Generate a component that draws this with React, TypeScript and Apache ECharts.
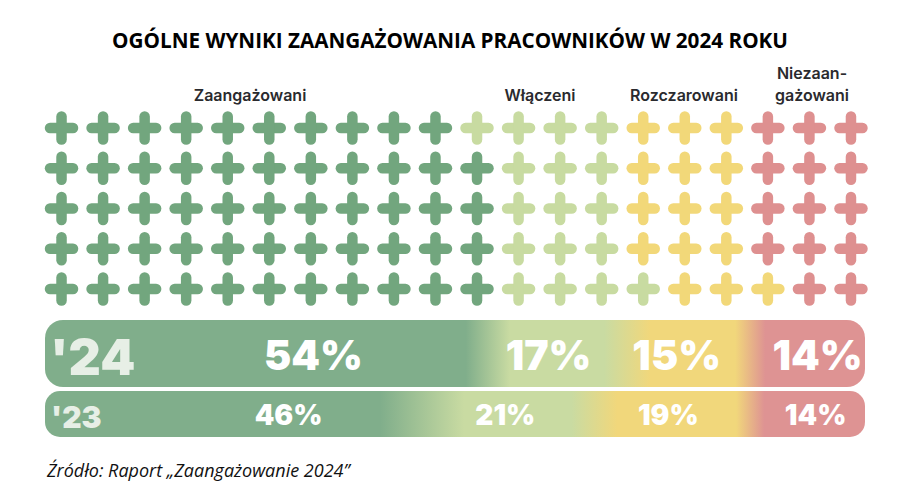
import React, { useEffect, useRef } from "react";
import * as echarts from "echarts";

const title = "OGÓLNE WYNIKI ZAANGAŻOWANIA PRACOWNIKÓW W 2024 ROKU";
const source = "Źródło: Raport „Zaangażowanie 2024”";
const categories = ["Zaangażowani", "Włączeni", "Rozczarowani", "Niezaan-\ngażowani"];
const years = ["'24", "'23"];
const values2024 = [54, 17, 15, 14];
const values2023 = [46, 21, 19, 14];
const crossColors = ["#72A67E", "#C8DBA1", "#F2D879", "#DE9090"];
const barColors = ["#80AE8B", "#C9DBA2", "#F1D77B", "#DE9393"];
const COLS = 20;
const ROWS = 5;

// waffle: column-major, bottom to top
function waffleData(vals: number[]) {
  const out: any[][] = vals.map(() => []);
  let idx = 0;
  vals.forEach((v, ci) => {
    for (let k = 0; k < v; k++) {
      const col = Math.floor(idx / ROWS) + 1;
      const row = (idx % ROWS) + 1; // 1 = bottom
      out[ci].push([col, row]);
      idx++;
    }
  });
  return out;
}

const BAR_PX = 820;
function barGradient(vals: number[], blends: number[]) {
  const stops: any[] = [{ offset: 0, color: barColors[0] }];
  let cum = 0;
  for (let i = 0; i < vals.length - 1; i++) {
    cum += vals[i] / 100;
    const bf = blends[i] / BAR_PX;
    stops.push({ offset: cum - bf, color: barColors[i] });
    stops.push({ offset: cum + bf, color: barColors[i + 1] });
  }
  stops.push({ offset: 1, color: barColors[vals.length - 1] });
  return new echarts.graphic.LinearGradient(0, 0, 1, 0, stops);
}

export default function App() {
  const ref = useRef<HTMLDivElement>(null);
  useEffect(() => {
    document.body.style.margin = "0";
    if (!ref.current) return;
    const chart = echarts.init(ref.current, null, { renderer: "svg" });
    const waffle = waffleData(values2024);

    const crossSeries = waffle.map((d, ci) => ({
      type: "custom",
      xAxisIndex: 0,
      yAxisIndex: 0,
      data: d,
      renderItem: (params: any, api: any) => {
        const p = api.coord([api.value(0), api.value(1)]);
        const h = 11.5;
        const style = { stroke: crossColors[ci], lineWidth: 10.5, lineCap: "round" };
        return {
          type: "group",
          children: [
            { type: "line", shape: { x1: p[0] - h, y1: p[1], x2: p[0] + h, y2: p[1] }, style },
            { type: "line", shape: { x1: p[0], y1: p[1] - h, x2: p[0], y2: p[1] + h }, style },
          ],
        };
      },
    }));

    const makeBars = (vals: number[], gi: number, fontSize: number, offsets: number[], blends: number[], radius: number) => [
      {
        type: "bar",
        xAxisIndex: gi,
        yAxisIndex: gi,
        barWidth: "100%",
        barGap: "-100%",
        data: [100],
        silent: true,
        itemStyle: { color: barGradient(vals, blends), borderRadius: radius },
        z: 1,
      },
      ...vals.map((v, i) => ({
        type: "bar",
        xAxisIndex: gi,
        yAxisIndex: gi,
        stack: "s" + gi,
        barWidth: "100%",
        barGap: "-100%",
        data: [v],
        z: 3,
        itemStyle: { color: "rgba(0,0,0,0)" },
        label: {
          show: true,
          position: "inside",
          formatter: "{c}%",
          color: "#ffffff",
          fontFamily: "Inter",
          fontWeight: 900,
          fontSize,
          offset: [offsets[i], 1],
        },
      })),
    ];

    const option: any = {
      animation: false,
      title: {
        text: title,
        left: "center",
        top: 24,
        textStyle: { fontFamily: "Open Sans", fontWeight: "bold", fontSize: 20.7, color: "#000" },
      },
      grid: [
        { left: 40.75, right: 28.25, top: 107.9, height: 201.25 },
        { left: 45, right: 35, top: 320, height: 67 },
        { left: 45, right: 35, top: 391, height: 46 },
      ],
      xAxis: [
        { type: "value", gridIndex: 0, min: 0.5, max: COLS + 0.5, show: false },
        { type: "value", gridIndex: 1, min: 0, max: 100, show: false },
        { type: "value", gridIndex: 2, min: 0, max: 100, show: false },
      ],
      yAxis: [
        { type: "value", gridIndex: 0, min: 0.5, max: ROWS + 0.5, show: false },
        { type: "category", gridIndex: 1, data: [years[0]], show: false },
        { type: "category", gridIndex: 2, data: [years[1]], show: false },
      ],
      series: [
        ...crossSeries,
        ...makeBars(values2024, 1, 41, [47, -9, -12, 10], [22, 23, 15], 18),
        ...makeBars(values2023, 2, 28, [55, -3, -4, 8], [42, 23, 14], 15),
      ],
      graphic: [
        ...categories.map((c, i) => ({
          type: "text",
          x: [250, 540, 684, 812][i],
          y: 106,
          z: 100,
          style: {
            text: c,
            align: "center",
            verticalAlign: "bottom",
            fontFamily: "Inter",
            fontWeight: 600,
            fontSize: 16,
            lineHeight: 22,
            fill: "#2a2a2e",
          },
        })),
        {
          type: "text",
          x: 50,
          y: 357,
          z: 100,
          style: { text: years[0], verticalAlign: "middle", fontFamily: "Inter", fontWeight: 900, fontSize: 50, fill: "#E7EFE6" },
        },
        {
          type: "text",
          x: 51,
          y: 417,
          z: 100,
          style: { text: years[1], verticalAlign: "middle", fontFamily: "Inter", fontWeight: 900, fontSize: 30, fill: "#E7EFE6" },
        },
        {
          type: "text",
          x: 47,
          y: 470,
          z: 100,
          style: { text: source, verticalAlign: "middle", fontFamily: "Open Sans", fontStyle: "italic", fontSize: 18, fill: "#111" },
        },
      ],
    };
    chart.setOption(option);
    return () => chart.dispose();
  }, []);
  return <div ref={ref} style={{ width: 900, height: 501 }} />;
}
